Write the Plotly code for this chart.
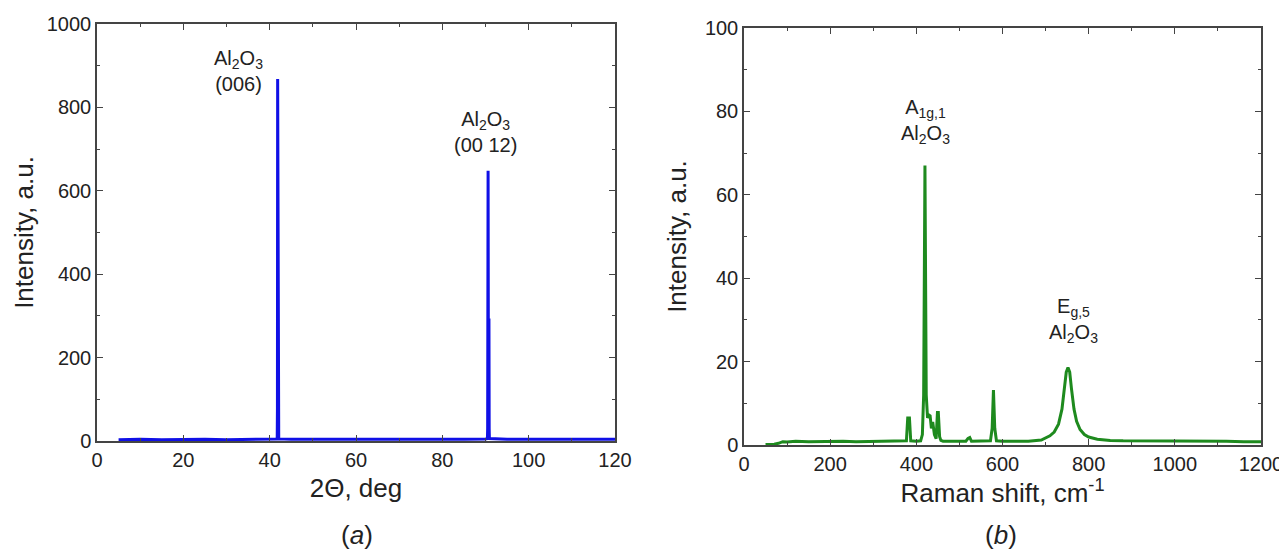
import plotly.graph_objects as go

# ---- (a) XRD data ----
xrd_2theta = [5, 10, 15, 20, 25, 30, 35, 40, 41.6, 41.75, 41.8, 41.85, 41.9, 41.95, 42.0, 42.1,
              45, 50, 55, 60, 65, 70, 75, 80, 85, 90, 90.45, 90.5, 90.55, 90.6, 90.65, 90.7,
              90.8, 90.85, 90.9, 95, 100, 105, 110, 115, 120]
xrd_intensity = [3, 4, 3, 4, 4, 3, 4, 4, 5, 8, 80, 868, 427, 70, 8, 5,
                 4, 4, 3, 4, 4, 3, 4, 4, 4, 5, 6, 30, 648, 648, 290, 290,
                 290, 30, 6, 4, 4, 3, 4, 4, 4]

# ---- (b) Raman data ----
raman_shift = [50, 60, 70, 80, 90, 100, 120, 150, 180, 200, 230, 260, 300, 330, 360, 372,
               377, 380, 384, 387, 392, 400, 410, 414, 417, 420, 423, 426, 429, 432, 435,
               438, 442, 446, 449, 451, 454, 457, 462, 475, 500, 515, 520, 524, 528, 540,
               560, 572, 576, 579, 582, 586, 600, 630, 660, 690, 700, 710, 720, 730, 738,
               744, 748, 752, 756, 760, 766, 772, 780, 790, 800, 820, 850, 880, 920, 960,
               1000, 1040, 1080, 1120, 1160, 1200]
raman_intensity = [0.1, 0.1, 0.2, 0.4, 0.8, 0.7, 0.9, 0.8, 0.9, 0.8, 0.9, 0.8, 0.9, 0.8, 0.9, 0.9,
                   1.0, 6.5, 6.5, 1.0, 0.9, 0.9, 1.0, 2.5, 12, 67, 12, 6.5, 7.2, 7.0, 4.0,
                   5.5, 2.5, 1.5, 7.8, 7.8, 2.0, 1.1, 0.9, 0.9, 0.9, 0.9, 1.6, 1.8, 0.9, 0.9,
                   0.9, 1.0, 4.0, 13.2, 4.0, 1.0, 0.9, 0.9, 0.9, 1.2, 1.7, 2.2, 3.1, 5.0, 8.6,
                   13.6, 17.5, 18.6, 17.5, 13.6, 8.6, 5.7, 3.7, 2.5, 1.9, 1.4, 1.1, 1.0, 1.0, 0.9,
                   1.0, 0.9, 0.9, 0.9, 0.8, 0.8]

FONT = "Liberation Sans, Arial, sans-serif"
TXT = "#222222"
AX = "#444444"
W, H = 1287, 556
OFF = 8  # page body margin of the html page

def px_x(p):
    return (p - OFF) / W

def px_y(p):
    return 1 - (p - OFF) / H

fig = go.Figure()
fig.add_trace(go.Scatter(x=xrd_2theta, y=xrd_intensity, mode="lines",
                         line=dict(color="#1010e6", width=3), xaxis="x", yaxis="y",
                         showlegend=False))
fig.add_trace(go.Scatter(x=raman_shift, y=raman_intensity, mode="lines",
                         line=dict(color="#1e8a1e", width=3), xaxis="x2", yaxis="y2",
                         showlegend=False))

def axis_common(rng, dtick, minor_dtick, domain, title, anchor, standoff):
    return dict(
        range=rng, dtick=dtick, tick0=0, domain=domain, anchor=anchor, automargin=False,
        showgrid=False, zeroline=False, showline=True, linecolor=AX, linewidth=1.5,
        mirror="ticks", ticks="inside", ticklen=6, tickwidth=1.2, tickcolor=AX,
        minor=dict(dtick=minor_dtick, tick0=0, ticks="inside", ticklen=3.5, tickwidth=1.2, tickcolor=AX),
        tickfont=dict(family=FONT, size=20, color=TXT),
        title=dict(text=title, font=dict(family=FONT, size=26, color=TXT), standoff=standoff),
    )

layout = dict(
    width=W, height=H, paper_bgcolor="white", plot_bgcolor="white",
    margin=dict(l=0, r=0, t=0, b=0),
    font=dict(family=FONT, color=TXT),
    xaxis=axis_common([0, 120], 20, 10, [px_x(97), px_x(615)], "2Θ, deg", "y", 9),
    yaxis=axis_common([0, 1000], 200, 100, [px_y(441), px_y(24)], "Intensity, a.u.", "x", 6),
    xaxis2=axis_common([0, 1200], 200, 100, [px_x(744), px_x(1261)], "Raman shift, cm<sup>-1</sup>", "y2", 5),
    yaxis2=axis_common([0, 100], 20, 10, [px_y(445), px_y(28)], "Intensity, a.u.", "x2", 11),
)
fig.update_layout(**layout)

ann_font = dict(family=FONT, size=20, color=TXT)
annotations = [
    dict(text="Al<sub>2</sub>O<sub>3</sub><br>(006)", x=px_x(238), y=px_y(71)),
    dict(text="Al<sub>2</sub>O<sub>3</sub><br>(00 12)", x=px_x(485), y=px_y(132)),
    dict(text="A<sub>1g,1</sub><br>Al<sub>2</sub>O<sub>3</sub>", x=px_x(925), y=px_y(121)),
    dict(text="E<sub>g,5</sub><br>Al<sub>2</sub>O<sub>3</sub>", x=px_x(1073), y=px_y(320)),
]
for a in annotations:
    fig.add_annotation(xref="paper", yref="paper", showarrow=False, font=ann_font,
                       xanchor="center", yanchor="middle", **a)

fig.add_annotation(text="(<i>a</i>)", xref="paper", yref="paper", x=px_x(357), y=px_y(535),
                   showarrow=False, font=dict(family=FONT, size=26, color=TXT),
                   xanchor="center", yanchor="middle")
fig.add_annotation(text="(<i>b</i>)", xref="paper", yref="paper", x=px_x(1001), y=px_y(535),
                   showarrow=False, font=dict(family=FONT, size=26, color=TXT),
                   xanchor="center", yanchor="middle")

fig.write_html("out.html")
